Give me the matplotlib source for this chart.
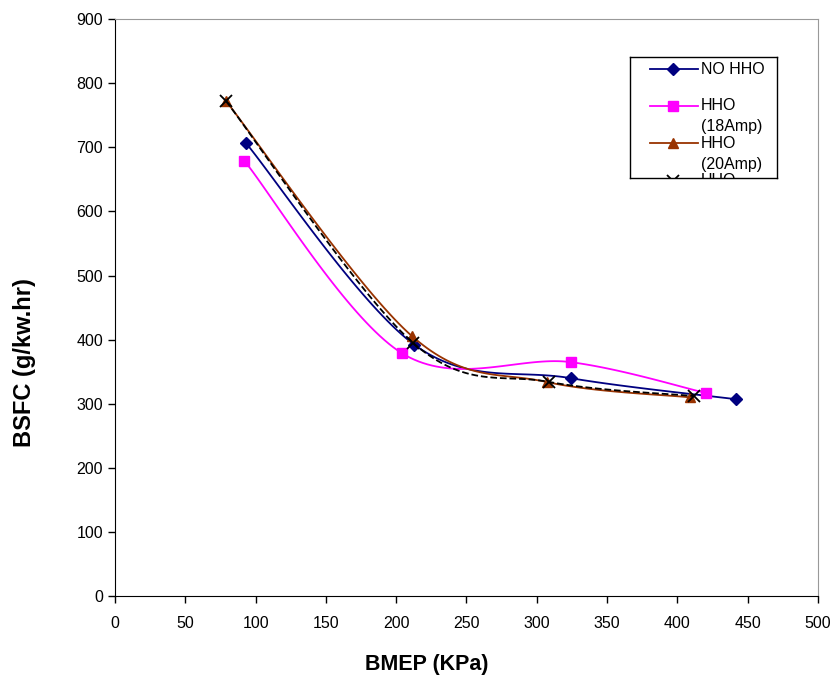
import numpy as np
from matplotlib import pyplot as plt

plt.rcParams['font.family'] = ['Liberation Sans', 'DejaVu Sans']

# BMEP (KPa) and BSFC (g/kw.hr)
bmep_no = [93, 213, 324, 442]
bsfc_no = [707, 392, 340, 307]
bmep_18 = [92, 204, 324, 420]
bsfc_18 = [679, 379, 365, 317]
bmep_20 = [79, 211, 307, 409]
bsfc_20 = [772, 406, 334, 310]
bmep_22 = [79, 212, 309, 412]
bsfc_22 = [772, 395, 334, 312]

labels = ["NO HHO", "HHO\n(18Amp)", "HHO\n(20Amp)", "HHO\n(22Amp)"]
colors = ["#000080", "#FF00FF", "#993300", "black"]
markers = ["D", "s", "^", "x"]
styles = ["-", "-", "-", "--"]


def smooth(x, y, n=40):
    # Excel-style smoothed line (Bezier through points)
    p = np.column_stack([x, y]).astype(float)
    pts = np.vstack([p[0], p, p[-1]])
    out = []
    for i in range(1, len(pts) - 2):
        p0, p1, p2, p3 = pts[i - 1], pts[i], pts[i + 1], pts[i + 2]
        c1 = p1 + (p2 - p0) / 6
        c2 = p2 - (p3 - p1) / 6
        t = np.linspace(0, 1, n)[:, None]
        seg = ((1 - t) ** 3) * p1 + 3 * ((1 - t) ** 2) * t * c1 + 3 * (1 - t) * t ** 2 * c2 + t ** 3 * p2
        out.append(seg)
    out = np.vstack(out)
    return out[:, 0], out[:, 1]


fig = plt.figure(figsize=(8.33, 6.79), dpi=100)
ax = fig.add_axes([0.138, 0.122, 0.844, 0.850])

series = [(bmep_no, bsfc_no), (bmep_18, bsfc_18), (bmep_20, bsfc_20), (bmep_22, bsfc_22)]
for (x, y), c, m, ls in zip(series, colors, markers, styles):
    sx, sy = smooth(x, y)
    ax.plot(sx, sy, color=c, linestyle=ls, linewidth=1.3)
    if m == "x":
        ax.plot(x, y, linestyle="none", marker=m, color=c, markersize=8, markeredgewidth=1.3)
    else:
        ax.plot(x, y, linestyle="none", marker=m, color=c, markersize=6 if m == "D" else 7)

ax.set_xlim(0, 500)
ax.set_ylim(0, 900)
ax.set_xticks(np.arange(0, 501, 50))
ax.set_yticks(np.arange(0, 901, 100))
ax.tick_params(labelsize=11.5, direction="out", length=5, width=1)
ax.tick_params(axis="x", pad=9)
ax.spines["top"].set_color("#999999")
ax.spines["right"].set_color("#999999")
ax.set_xlabel("BMEP (KPa)", fontsize=15.5, fontweight="bold")
ax.set_ylabel("BSFC (g/kw.hr)", fontsize=17, fontweight="bold")
ax.xaxis.set_label_coords(0.444, -0.100)
ax.yaxis.set_label_coords(-0.113, 0.404)

# clipped legend box as in the original
lg = fig.add_axes([630 / 833, 1 - 178 / 679, 147 / 833, 121 / 679])
lg.set_xlim(0, 147)
lg.set_ylim(121, 0)
lg.set_xticks([])
lg.set_yticks([])
for s in lg.spines.values():
    s.set_color("black")
    s.set_linewidth(1)
rows = [12, 49, 86, 124]
for r, lab, c, m in zip(rows, labels, colors, markers):
    lg.plot([20, 68], [r, r], color=c, linewidth=1.3)
    if m == "x":
        lg.plot([43], [r], marker=m, color=c, markersize=8, markeredgewidth=1.3)
    else:
        lg.plot([43], [r], marker=m, color=c, markersize=6 if m == "D" else 7)
    for k, part in enumerate(lab.split("\n")):
        lg.text(71, r + k * 21, part, fontsize=11.5, va="center", ha="left", clip_on=True)

fig.savefig("out.png", dpi=100)
